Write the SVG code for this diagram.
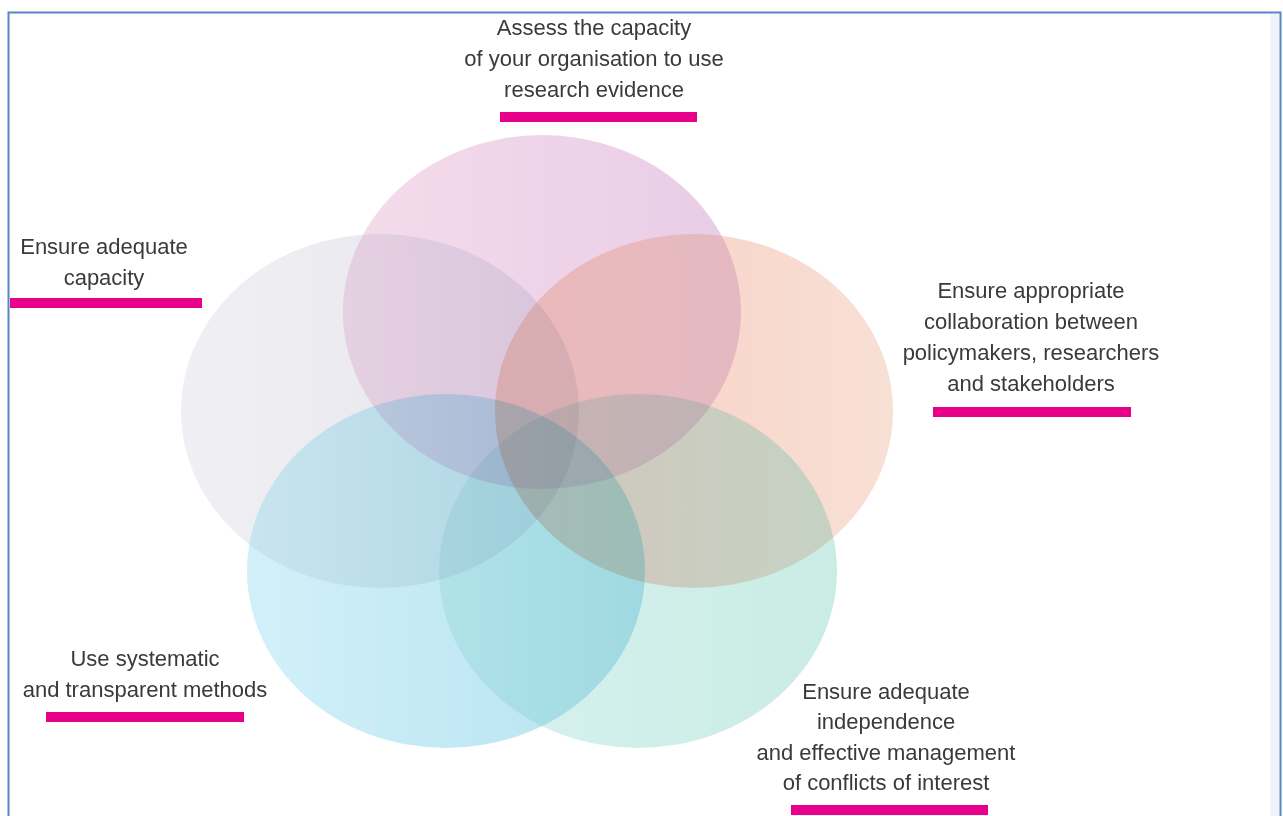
<svg xmlns="http://www.w3.org/2000/svg" width="1283" height="816" viewBox="0 0 1283 816">
  <style>
    .lbl { font-family: "Liberation Sans", Arial, sans-serif; font-size: 22px; fill: #3a3a3a; text-anchor: middle; }
    .bar { fill: #e8008a; }
    .mul { mix-blend-mode: multiply; }
    .drk { mix-blend-mode: darken; }
  </style>
  <defs>
    <linearGradient id="gPink" x1="0" y1="0" x2="1" y2="0">
      <stop offset="0" stop-color="#f5dcea"/>
      <stop offset="1" stop-color="#e8cce7"/>
    </linearGradient>
    <linearGradient id="gGrey" x1="0" y1="0" x2="1" y2="0">
      <stop offset="0" stop-color="#f0f0f4"/>
      <stop offset="1" stop-color="#e3e3eb"/>
    </linearGradient>
    <linearGradient id="gOrange" x1="0" y1="0" x2="1" y2="0">
      <stop offset="0" stop-color="#f9ccc4"/>
      <stop offset="1" stop-color="#f8e0d4"/>
    </linearGradient>
    <linearGradient id="gBlue" x1="0" y1="0" x2="1" y2="0">
      <stop offset="0" stop-color="#d2f0fa"/>
      <stop offset="1" stop-color="#b4e3f0"/>
    </linearGradient>
    <linearGradient id="gTeal" x1="0" y1="0" x2="1" y2="0">
      <stop offset="0" stop-color="#d9f2f0"/>
      <stop offset="1" stop-color="#c9ece4"/>
    </linearGradient>
    <ellipse id="eGrey" cx="380" cy="411" rx="199" ry="177" fill="url(#gGrey)"/>
    <ellipse id="ePink" cx="542" cy="312" rx="199" ry="177" fill="url(#gPink)"/>
    <ellipse id="eOrange" cx="694" cy="411" rx="199" ry="177" fill="url(#gOrange)"/>
    <ellipse id="eBlue" cx="446" cy="571" rx="199" ry="177" fill="url(#gBlue)"/>
    <ellipse id="eTeal" cx="638" cy="571" rx="199" ry="177" fill="url(#gTeal)"/>
  </defs>

  <rect x="0" y="0" width="1283" height="816" fill="#ffffff"/>
  <rect x="1270" y="14" width="9" height="802" fill="#f1f3f8"/>
  <path d="M8.5 830 V12.5 H1280.5 V830" fill="none" stroke="#5585c8" stroke-width="2"/>

  <g id="circles">
    <g id="c-grey"><use href="#eGrey" class="mul"/></g>
    <g id="c-pink"><use href="#ePink" class="mul"/></g>
    <g id="c-orange"><use href="#eOrange" class="mul"/></g>
    <g id="c-blue"><use href="#eBlue" class="mul"/></g>
    <g id="c-teal"><use href="#eTeal" class="mul"/></g>
  </g>
  <g id="circles-soften" opacity="0.38">
    <rect x="178" y="132" width="718" height="620" fill="#ffffff"/>
    <use href="#eGrey" class="drk"/>
    <use href="#ePink" class="drk"/>
    <use href="#eOrange" class="drk"/>
    <use href="#eBlue" class="drk"/>
    <use href="#eTeal" class="drk"/>
  </g>

  <g id="label-top">
    <text class="lbl" x="594" y="35">Assess the capacity</text>
    <text class="lbl" x="594" y="66">of your organisation to use</text>
    <text class="lbl" x="594" y="97">research evidence</text>
    <rect class="bar" x="500" y="112" width="197" height="10"/>
  </g>

  <g id="label-left">
    <text class="lbl" x="104" y="254">Ensure adequate</text>
    <text class="lbl" x="104" y="285">capacity</text>
    <rect class="bar" x="10" y="298" width="192" height="10"/>
  </g>

  <g id="label-right">
    <text class="lbl" x="1031" y="298">Ensure appropriate</text>
    <text class="lbl" x="1031" y="329">collaboration between</text>
    <text class="lbl" x="1031" y="360">policymakers, researchers</text>
    <text class="lbl" x="1031" y="391">and stakeholders</text>
    <rect class="bar" x="933" y="407" width="198" height="10"/>
  </g>

  <g id="label-bottom-left">
    <text class="lbl" x="145" y="666">Use systematic</text>
    <text class="lbl" x="145" y="697">and transparent methods</text>
    <rect class="bar" x="46" y="712" width="198" height="10"/>
  </g>

  <g id="label-bottom-right">
    <text class="lbl" x="886" y="699">Ensure adequate</text>
    <text class="lbl" x="886" y="729">independence</text>
    <text class="lbl" x="886" y="760">and effective management</text>
    <text class="lbl" x="886" y="790">of conflicts of interest</text>
    <rect class="bar" x="791" y="805" width="197" height="10"/>
  </g>
</svg>
